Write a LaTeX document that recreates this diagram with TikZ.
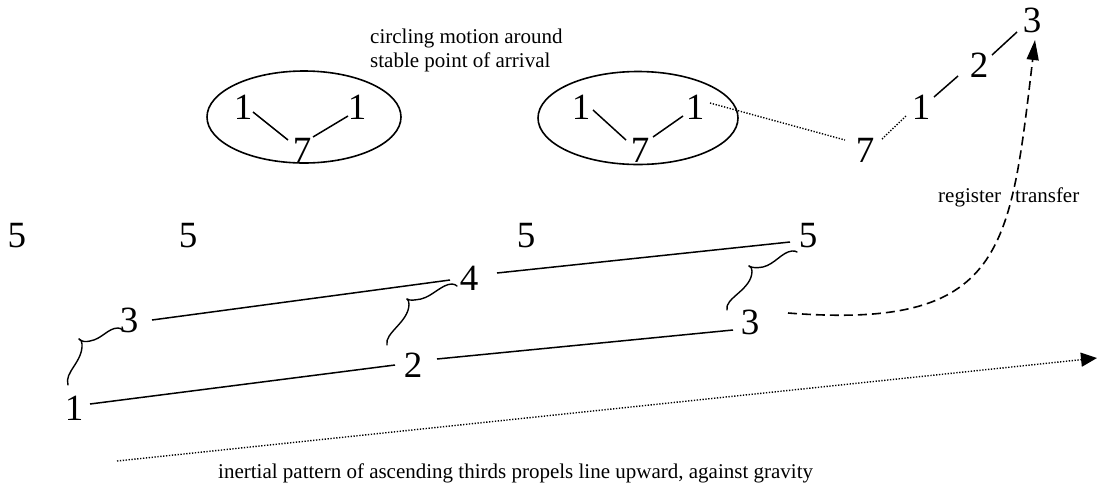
\documentclass[tikz,border=0pt]{standalone}
\usepackage{fontspec}
\setmainfont{Liberation Serif}
\usetikzlibrary{shapes.geometric,arrows.meta}
\begin{document}
\begin{tikzpicture}[x=1pt,y=-1pt,
  dig/.style={inner sep=0pt, font=\fontsize{37}{37}\selectfont},
  lbl/.style={inner sep=0pt, font=\fontsize{21}{24}\selectfont, align=left},
  solidln/.style={line width=1.5pt},
  dotln/.style={line width=1.4pt, dash pattern=on 1.3pt off 1.6pt},
  dashln/.style={line width=1.6pt, dash pattern=on 9pt off 5pt},
  oval/.style={ellipse, draw, line width=1.6pt, inner sep=0pt},
  bracestyle/.style={line width=1.4pt, line cap=round},
]
\useasboundingbox (0,0) rectangle (1097,496);

% ellipses
\node[oval, minimum width=194pt, minimum height=92pt] (e1) at (304,117) {};
\node[oval, minimum width=200pt, minimum height=93pt] (e2) at (638,118) {};

% digits in ellipses
\node[dig] (a1) at (243,107) {1};
\node[dig] (a7) at (302,150) {7};
\node[dig] (a1r) at (357,107) {1};
\node[dig] (b1) at (581,107) {1};
\node[dig] (b7) at (640,150) {7};
\node[dig] (b1r) at (695,107) {1};

% upper right chain
\node[dig] (c7) at (865,150) {7};
\node[dig] (c1) at (921,107) {1};
\node[dig] (c2) at (979,65) {2};
\node[dig] (c3) at (1032,20) {3};

% row of fives
\node[dig] (f1) at (17,236) {5};
\node[dig] (f2) at (188,236) {5};
\node[dig] (f3) at (526,236) {5};
\node[dig] (f4) at (808,236) {5};

% middle and lower lines
\node[dig] (m3) at (129,320) {3};
\node[dig] (m4) at (469,278) {4};
\node[dig] (l1) at (74,408) {1};
\node[dig] (l2) at (413,365) {2};
\node[dig] (l3) at (750,322) {3};

% labels
\node[lbl, anchor=north west] (tcirc) at (370,28.5) {circling motion around\\stable point of arrival};
\node[lbl, anchor=base west] (treg) at (938,202) {register\hspace{14pt}transfer};
\node[lbl, anchor=base west] (tin) at (218,478) {inertial pattern of ascending thirds propels line upward, against gravity};

% connectors inside ellipses
\draw[solidln] ([shift={(10,5)}]a1.center) -- ([shift={(-14,-10)}]a7.center);
\draw[solidln] ([shift={(11,-13)}]a7.center) -- ([shift={(-9,9)}]a1r.center);
\draw[solidln] ([shift={(12,3)}]b1.center) -- ([shift={(-14,-10)}]b7.center);
\draw[solidln] ([shift={(13,-13)}]b7.center) -- ([shift={(-12,9)}]b1r.center);

% dotted connectors
\draw[dotln] ([shift={(15,-4)}]b1r.center) -- ([shift={(-20,-10)}]c7.center);
\draw[dotln] ([shift={(17,-11)}]c7.center) -- ([shift={(-14,8)}]c1.center);

% ascending chain
\draw[solidln] ([shift={(13,-10)}]c1.center) -- ([shift={(-21,11)}]c2.center);
\draw[solidln] ([shift={(13,-10)}]c2.center) -- ([shift={(-15,12)}]c3.center);

% lines of thirds
\draw[solidln] ([shift={(23,0)}]m3.center) -- ([shift={(-19,2)}]m4.center);
\draw[solidln] ([shift={(28,-5)}]m4.center) -- ([shift={(-18,6)}]f4.center);
\draw[solidln] ([shift={(16,-4)}]l1.center) -- ([shift={(-18,0)}]l2.center);
\draw[solidln] ([shift={(24,-6)}]l2.center) -- ([shift={(-17,8)}]l3.center);

% braces
\draw[bracestyle] (68,385) .. controls (64,372) and (83,362) .. (82,344) .. controls (82,341) and (81,340) .. (79,339);
\draw[bracestyle] (79,339) .. controls (82,342) and (86,342) .. (90,341) .. controls (102,339) and (108,328) .. (118,328) .. controls (120,328) and (122,329) .. (122,330);

\draw[bracestyle] (387,345) .. controls (384,333) and (409,322) .. (409,304) .. controls (409,301) and (408,300) .. (407,299);
\draw[bracestyle] (407,299) .. controls (410,301) and (415,300) .. (421,299) .. controls (433,296) and (442,284) .. (452,284) .. controls (454,284) and (456,285) .. (457,286);

\draw[bracestyle] (727,310) .. controls (724,298) and (752,290) .. (752,271) .. controls (752,268) and (751,267) .. (749,266);
\draw[bracestyle] (749,266) .. controls (752,268) and (757,268) .. (763,267) .. controls (775,264) and (782,252) .. (792,251) .. controls (794,251) and (796,251) .. (797,252);

% register transfer dashed arrow
\draw[dashln, -{Triangle[length=20pt,width=12pt]}] ([shift={(38,-9)}]l3.center) .. controls (1005,330) and (1010,250) .. ([shift={(3,20)}]c3.center);

% inertial dotted arrow
\coordinate (dstart) at (117,461);
\coordinate (dend) at (1097,358);
\draw[dotln, -{Triangle[length=16pt,width=14pt]}] (dstart) -- (dend);
\end{tikzpicture}
\end{document}
